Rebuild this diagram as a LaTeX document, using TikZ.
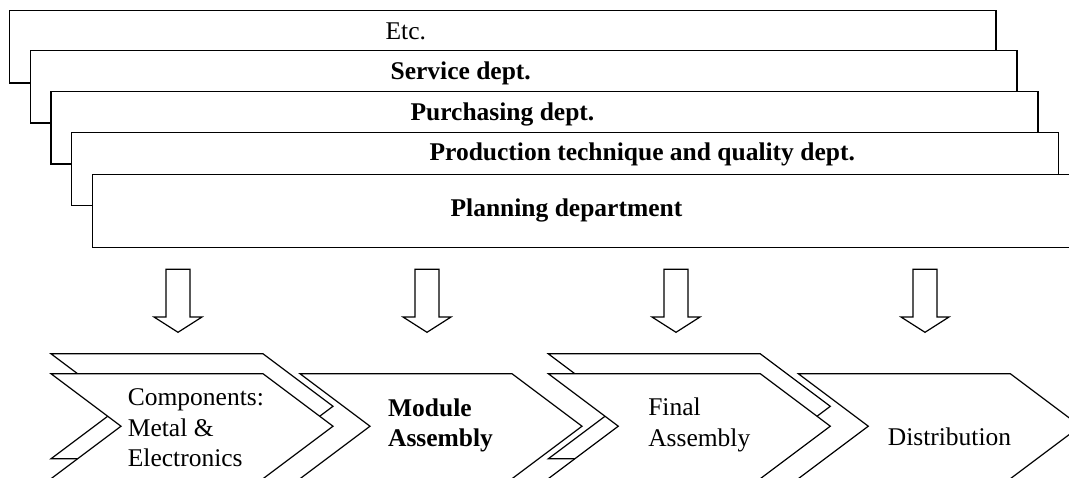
\documentclass[tikz,border=0pt]{standalone}
\usepackage{fontspec}
\setmainfont{Liberation Serif}
\newcommand{\stack}[1]{\begin{tabular}[t]{@{}l@{}}#1\end{tabular}}
\begin{document}
\begin{tikzpicture}[x=1pt,y=-1pt,line width=1.2pt,line join=miter,
  box/.style={draw=black,fill=white},
  dept/.style={anchor=base west,inner sep=0pt,font=\fontsize{25.5}{30.5}\selectfont\bfseries},
  deptreg/.style={anchor=base west,inner sep=0pt,font=\fontsize{25.5}{30.5}\selectfont},
  stage/.style={anchor=base west,inner sep=0pt,font=\fontsize{25.5}{30.5}\selectfont},
  stagebold/.style={stage,font=\fontsize{25.5}{30.5}\selectfont\bfseries},
  blockarrow/.style={draw=black,fill=white}]
\useasboundingbox (0,0) rectangle (1069,477);
\clip (0,0) rectangle (1069,477);

% stacked department boxes (back to front)
\draw[box] (9.7,10.3) rectangle (996,83);
\draw[box] (30.3,50.3) rectangle (1017,123);
\draw[box] (51,91.3) rectangle (1038,164);
\draw[box] (71.7,132.7) rectangle (1058.7,205.7);
\draw[box] (92.7,174.3) rectangle (1085,247.3);

\node[deptreg] (etc) at (385,39.5) {Etc.};
\node[dept] (service) at (390,79.5) {Service dept.};
\node[dept] (purch) at (410,120.5) {Purchasing dept.};
\node[dept] (prod) at (429,160.5) {Production technique and quality dept.};
\node[dept] (plan) at (450,216.5) {Planning department};

% block arrows
\foreach \cx in {178,427,676,925}{
  \draw[blockarrow] (\cx-12,269.3) -- (\cx+12,269.3) -- (\cx+12,317) -- (\cx+24,317)
    -- (\cx,332.3) -- (\cx-24,317) -- (\cx-12,317) -- cycle;
}

% chevrons
\newcommand{\chev}[2]{\draw[box] (#1,#2) -- ++(212,0) -- ++(70,52.5) -- ++(-70,52.5)
  -- ++(-212,0) -- ++(70,-52.5) -- cycle;}
\chev{51}{353.8}
\chev{51}{373.7}
\chev{300}{373.7}
\chev{548.3}{353.8}
\chev{548.3}{373.7}
\chev{798.3}{373.7}

\node[stage] (comp) at (127.3,405.7) {\stack{Components:\\Metal \&\\Electronics}};
\node[stagebold] (module) at (387.5,416) {\stack{Module\\Assembly}};
\node[stage] (final) at (647.7,415.5) {\stack{Final\\Assembly}};
\node[stage] (distr) at (887.3,445.5) {Distribution};
\end{tikzpicture}
\end{document}
